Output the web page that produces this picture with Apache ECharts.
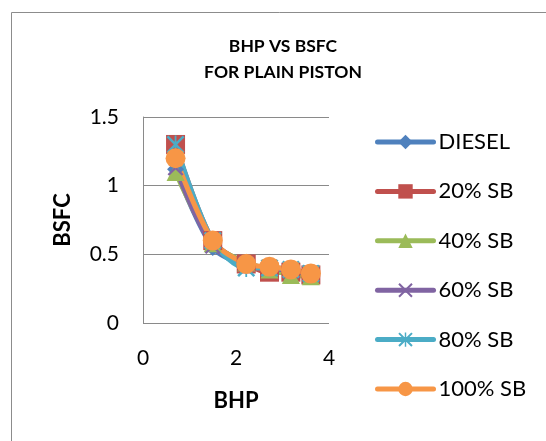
<!DOCTYPE html>
<html>
<head>
<meta charset="utf-8">
<script src="https://cdn.jsdelivr.net/npm/echarts@6/dist/echarts.min.js"></script>
<style>
  html, body { margin: 0; padding: 0; background: #fff; }
  #chart { width: 546px; height: 441px; }
</style>
</head>
<body>
<div id="chart"></div>
<script>
// Brake horsepower readings (x) shared by all fuel blends
const bhp = [0.70, 1.50, 2.22, 2.72, 3.18, 3.61];

// Brake specific fuel consumption for each blend
const diesel = [1.12, 0.55, 0.42, 0.40, 0.38, 0.36];
const sb20   = [1.30, 0.60, 0.43, 0.37, 0.37, 0.35];
const sb40   = [1.10, 0.58, 0.44, 0.39, 0.35, 0.34];
const sb60   = [1.13, 0.56, 0.43, 0.40, 0.38, 0.36];
const sb80   = [1.30, 0.60, 0.40, 0.40, 0.39, 0.36];
const sb100  = [1.20, 0.60, 0.43, 0.41, 0.39, 0.36];

const seriesNames = ['DIESEL', '20% SB', '40% SB', '60% SB', '80% SB', '100% SB'];
const seriesValues = [diesel, sb20, sb40, sb60, sb80, sb100];

const xTicks = [0, 2, 4];
const yTicks = [0, 0.5, 1, 1.5];

const colors = ['#4F81BD', '#C0504D', '#9BBB59', '#8064A2', '#4BACC6', '#F79646'];
const crossPath = 'path://M0,1 L1,0 L5,4 L9,0 L10,1 L6,5 L10,9 L9,10 L5,6 L1,10 L0,9 L4,5 Z';
const starPath = 'path://M0,1 L1,0 L4.5,3.5 L4.5,0 L5.5,0 L5.5,3.5 L9,0 L10,1 L6,5 L10,9 L9,10 L5.5,6.5 L5.5,10 L4.5,10 L4.5,6.5 L1,10 L0,9 L4,5 Z';
const symbols = ['diamond', 'rect', 'triangle', crossPath, starPath, 'circle'];
const symbolSizes = [17, 19, 18, 16, 18, 20];

const font = 'Lato, Carlito, "Liberation Sans", sans-serif';

const chart = echarts.init(document.getElementById('chart'));

chart.setOption({
  animation: false,
  backgroundColor: '#ffffff',
  color: colors,
  title: {
    text: 'BHP VS BSFC\nFOR PLAIN PISTON',
    left: 283,
    top: 33,
    textAlign: 'center',
    padding: 0,
    textStyle: {
      fontFamily: font,
      fontSize: 17.5,
      fontWeight: 'bold',
      color: '#000',
      lineHeight: 26
    }
  },
  legend: {
    orient: 'vertical',
    left: 375,
    top: 131,
    padding: 0,
    itemWidth: 56,
    itemHeight: 18,
    itemGap: 27.4,
    lineStyle: { width: 5, cap: 'round' },
    textStyle: {
      fontFamily: font,
      fontSize: 22,
      lineHeight: 22,
      color: '#000'
    },
    data: seriesNames
  },
  grid: {
    left: 143,
    top: 117,
    right: 217,
    bottom: 118
  },
  xAxis: {
    type: 'value',
    min: xTicks[0],
    max: xTicks[xTicks.length - 1],
    interval: xTicks[1] - xTicks[0],
    name: 'BHP',
    nameLocation: 'middle',
    nameGap: 67,
    nameTextStyle: { fontFamily: font, fontSize: 22, fontWeight: 'bold', color: '#000', verticalAlign: 'top' },
    axisLine: { show: false },
    axisTick: { show: false },
    splitLine: { show: false },
    axisLabel: { fontFamily: font, fontSize: 21, color: '#000', margin: 25 }
  },
  yAxis: {
    type: 'value',
    min: yTicks[0],
    max: yTicks[yTicks.length - 1],
    interval: yTicks[1] - yTicks[0],
    name: 'BSFC',
    nameLocation: 'middle',
    nameGap: 69,
    nameRotate: 90,
    nameTextStyle: { fontFamily: font, fontSize: 22, fontWeight: 'bold', color: '#000' },
    axisLine: { show: true, lineStyle: { color: '#8a8a8a', width: 1 } },
    axisTick: { show: false },
    splitLine: { show: true, lineStyle: { color: '#8a8a8a', width: 1 } },
    axisLabel: { fontFamily: font, fontSize: 21, color: '#000', margin: 24, formatter: v => String(v) }
  },
  graphic: [{
    type: 'rect',
    shape: { x: 11.5, y: 12.5, width: 600, height: 500 },
    style: { fill: 'none', stroke: '#8c8c8c', lineWidth: 1 },
    silent: true
  }],
  series: seriesNames.map((name, i) => ({
    name,
    type: 'line',
    smooth: 0.3,
    data: bhp.map((x, j) => [x, seriesValues[i][j]]),
    symbol: symbols[i],
    symbolSize: symbolSizes[i],
    showAllSymbol: true,
    lineStyle: { width: 5, color: colors[i], cap: 'round', join: 'round' },
    itemStyle: { color: colors[i], borderWidth: 0 }
  }))
});
</script>
</body>
</html>
